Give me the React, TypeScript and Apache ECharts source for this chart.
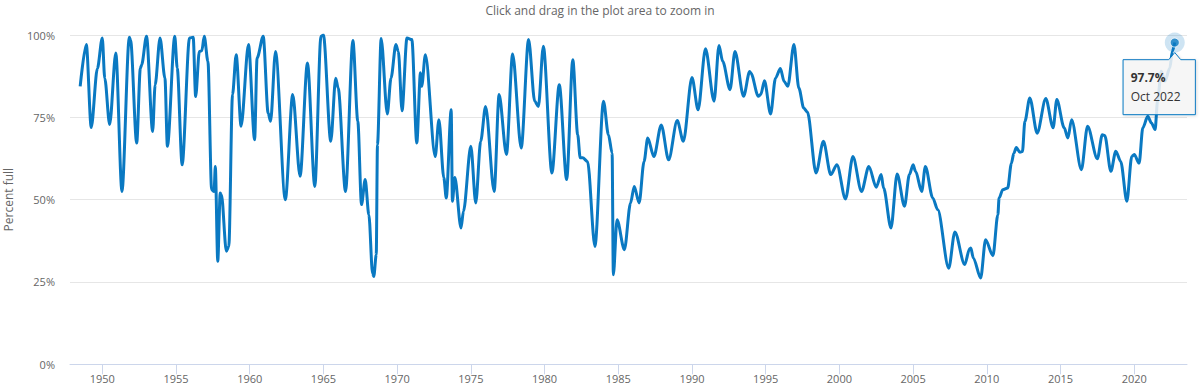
import React, { useEffect, useRef } from "react";
import * as echarts from "echarts";

const months: string[] = [
  "1948-07", "1948-12", "1949-04", "1949-09", "1950-01", "1950-03", "1950-07", "1950-12",
  "1951-05", "1951-11", "1951-12", "1952-05", "1952-08", "1952-09", "1953-01", "1953-06",
  "1953-08", "1953-12", "1954-04", "1954-06", "1954-12", "1955-02", "1955-06", "1955-12",
  "1956-03", "1956-05", "1956-08", "1956-10", "1956-12", "1957-03", "1957-06", "1957-08",
  "1957-09", "1957-11", "1958-01", "1958-02", "1958-06", "1958-08", "1958-11", "1959-02",
  "1959-06", "1959-12", "1960-05", "1960-07", "1960-12", "1961-04", "1961-06", "1961-10",
  "1962-06", "1962-12", "1963-06", "1963-12", "1964-06", "1964-11", "1965-01", "1965-07",
  "1965-11", "1966-01", "1966-07", "1967-01", "1967-05", "1967-08", "1967-11", "1968-02",
  "1968-05", "1968-06", "1968-08", "1968-09", "1968-12", "1969-05", "1969-08", "1969-12",
  "1970-02", "1970-05", "1970-09", "1971-01", "1971-05", "1971-08", "1971-09", "1971-12",
  "1972-08", "1972-11", "1973-03", "1973-05", "1973-09", "1973-10", "1973-12", "1974-05",
  "1974-07", "1975-01", "1975-05", "1975-09", "1976-01", "1976-08", "1976-12", "1977-06",
  "1977-11", "1978-06", "1978-12", "1979-05", "1979-08", "1979-12", "1980-07", "1981-01",
  "1981-07", "1981-12", "1982-04", "1982-06", "1982-08", "1982-12", "1983-06", "1984-01",
  "1984-05", "1984-08", "1984-09", "1984-12", "1985-06", "1985-11", "1986-02", "1986-06",
  "1986-10", "1987-01", "1987-06", "1987-12", "1988-06", "1989-01", "1989-06", "1990-01",
  "1990-06", "1990-12", "1991-07", "1991-11", "1992-02", "1992-08", "1992-12", "1993-07",
  "1993-12", "1994-01", "1994-07", "1994-09", "1994-12", "1995-05", "1995-09", "1996-01",
  "1996-04", "1996-07", "1996-12", "1997-04", "1997-08", "1997-11", "1998-06", "1998-12",
  "1999-06", "1999-11", "2000-06", "2000-12", "2001-07", "2002-01", "2002-07", "2002-11",
  "2003-01", "2003-07", "2003-12", "2004-06", "2004-10", "2005-01", "2005-03", "2005-08",
  "2005-11", "2006-05", "2006-09", "2007-06", "2007-11", "2008-07", "2008-11", "2008-12",
  "2009-02", "2009-08", "2009-12", "2010-06", "2010-10", "2010-11", "2011-02", "2011-06",
  "2011-09", "2011-11", "2012-01", "2012-04", "2012-06", "2012-08", "2012-12", "2013-06",
  "2014-01", "2014-07", "2014-10", "2015-04", "2015-07", "2015-10", "2016-06", "2016-11",
  "2017-07", "2017-11", "2018-01", "2018-06", "2018-10", "2019-02", "2019-07", "2019-11",
  "2020-01", "2020-05", "2020-08", "2020-12", "2021-03", "2021-06", "2021-08", "2021-11",
  "2022-02", "2022-06", "2022-08", "2022-10",
];

const percentFull: number[] = [
  84.4, 97.1, 71.9, 89.8, 99.1, 86.9, 72.8, 94.5,
  52.5, 99.3, 98.5, 67.2, 89.9, 90.9, 99.6, 70.7,
  84.8, 99.1, 86.9, 66.2, 99.6, 90.0, 60.6, 99.1,
  99.3, 81.3, 95.0, 95.2, 99.6, 92.0, 53.0, 52.5,
  60.1, 31.3, 52.0, 51.5, 34.3, 35.8, 81.9, 94.0,
  72.3, 97.1, 68.2, 93.0, 99.6, 76.3, 73.8, 95.0,
  50.0, 81.9, 57.1, 91.5, 54.0, 99.6, 100, 67.7,
  86.9, 83.9, 52.5, 98.3, 73.8, 48.5, 56.1, 45.4,
  27.5, 26.7, 33.3, 66.7, 98.9, 76.0, 86.9, 97.1,
  95.0, 77.0, 99.1, 98.6, 67.2, 88.5, 84.4, 94.0,
  63.1, 74.3, 56.7, 50.5, 77.3, 49.5, 56.7, 41.4,
  46.5, 66.2, 49.0, 67.7, 78.3, 52.5, 81.9, 63.7,
  94.2, 65.7, 98.6, 79.9, 78.3, 96.6, 58.1, 84.9,
  56.1, 92.5, 69.7, 62.7, 62.7, 61.6, 35.8, 79.9,
  69.7, 64.2, 27.2, 43.9, 34.8, 49.0, 54.0, 49.0,
  61.6, 68.7, 63.1, 72.7, 62.1, 74.0, 67.7, 87.1,
  77.3, 95.8, 79.9, 96.8, 92.0, 83.4, 95.0, 81.4,
  88.9, 88.4, 81.4, 81.9, 86.1, 76.0, 86.9, 89.8,
  85.9, 84.4, 97.1, 83.9, 77.8, 76.6, 58.1, 67.7,
  57.6, 60.6, 50.2, 63.1, 52.5, 60.1, 53.8, 57.6,
  53.5, 41.4, 57.8, 48.0, 57.6, 60.6, 58.6, 52.5,
  60.1, 50.5, 47.0, 29.2, 40.2, 30.3, 35.1, 35.3,
  32.3, 26.2, 37.8, 33.0, 45.4, 50.5, 53.0, 53.5,
  61.0, 64.1, 65.8, 64.4, 64.6, 73.8, 80.9, 70.2,
  80.7, 71.8, 80.4, 71.8, 68.7, 74.3, 59.1, 72.3,
  62.4, 69.7, 69.5, 58.6, 64.7, 61.6, 49.5, 63.1,
  63.7, 61.1, 71.8, 75.3, 73.3, 71.3, 80.0, 89.0,
  86.0, 90.0, 95.0, 97.7,
];

const yearTicks: number[] = [1950, 1955, 1960, 1965, 1970, 1975, 1980, 1985, 1990, 1995, 2000, 2005, 2010, 2015, 2020];
const monthNames: string[] = ["Jan", "Feb", "Mar", "Apr", "May", "Jun", "Jul", "Aug", "Sep", "Oct", "Nov", "Dec"];

const toYear = (m: string) => {
  const [y, mo] = m.split("-").map(Number);
  return y + (mo - 1) / 12;
};

export default function App() {
  const ref = useRef<HTMLDivElement>(null);
  useEffect(() => {
    const chart = echarts.init(ref.current!, null, { renderer: "svg" });
    const blue = "#0a79c2";
    const font = "'Open Sans', 'Noto Sans', sans-serif";
    const data = months.map((m, i) => [toYear(m), percentFull[i]]);
    const last = data[data.length - 1];
    const lastMonth = months[months.length - 1];
    const [ly, lm] = lastMonth.split("-").map(Number);

    chart.setOption({
      animation: false,
      backgroundColor: "#ffffff",
      textStyle: { fontFamily: font },
      title: {
        text: "Click and drag in the plot area to zoom in",
        left: "center",
        top: -1,
        textStyle: { fontSize: 12, fontWeight: "normal", color: "#666666", fontFamily: font },
      },
      grid: { left: 70, right: 13, top: 35, bottom: 25.7, containLabel: false, outerBoundsMode: "none" },
      xAxis: {
        type: "value",
        min: 1947.81,
        max: 2023.58,
        axisLine: { lineStyle: { color: "#ccd6eb" } },
        axisTick: { customValues: yearTicks, length: 10, lineStyle: { color: "#ccd6eb" } },
        axisLabel: {
          customValues: yearTicks,
          formatter: (v: number) => String(Math.round(v)),
          color: "#666666",
          fontSize: 11,
          margin: 9,
          fontFamily: font,
        },
        splitLine: { show: false },
      },
      yAxis: {
        type: "value",
        min: 0,
        max: 100,
        interval: 25,
        name: "Percent full",
        nameLocation: "middle",
        nameGap: 56,
        nameTextStyle: { color: "#666666", fontSize: 12, fontFamily: font },
        axisLabel: { formatter: "{value}%", color: "#666666", fontSize: 11, margin: 15, fontFamily: font },
        splitLine: { lineStyle: { color: "#e6e6e6" } },
        axisLine: { show: false },
        axisTick: { show: false },
      },
      series: [
        {
          type: "line",
          data,
          showSymbol: false,
          smooth: 0.3,
          smoothMonotone: "x",
          lineStyle: { color: blue, width: 3 },
          itemStyle: { color: blue },
          z: 2,
        },
        {
          type: "scatter",
          data: [last],
          symbolSize: 20,
          itemStyle: { color: "rgba(10,121,194,0.25)" },
          silent: true,
          z: 3,
        },
        {
          type: "scatter",
          data: [last],
          symbolSize: 9,
          itemStyle: { color: blue, borderColor: "#ffffff", borderWidth: 1 },
          silent: true,
          z: 4,
        },
      ],
    });

    const p = chart.convertToPixel({ gridIndex: 0 }, last) as number[];
    const bx = p[0] - 51.7;
    const by = p[1] + 17.1;
    const bw = 72.3;
    const bh = 55;
    chart.setOption({
      graphic: [
        {
          type: "polygon",
          z: 100,
          shape: {
            points: [
              [bx, by],
              [p[0] - 6, by],
              [p[0], p[1] + 10],
              [p[0] + 6, by],
              [bx + bw, by],
              [bx + bw, by + bh],
              [bx, by + bh],
            ],
          },
          style: {
            fill: "rgba(247,247,247,0.85)",
            stroke: blue,
            lineWidth: 1,
            shadowBlur: 3,
            shadowOffsetX: 1,
            shadowOffsetY: 1,
            shadowColor: "rgba(0,0,0,0.15)",
          },
        },
        {
          type: "text",
          z: 101,
          x: bx + 7.6,
          y: by + 18.3,
          style: {
            text: `${last[1].toFixed(1)}%`,
            fill: "#333333",
            font: `bold 12px ${font}`,
            verticalAlign: "middle",
          },
        },
        {
          type: "text",
          z: 101,
          x: bx + 7.6,
          y: by + 36.8,
          style: {
            text: `${monthNames[lm - 1]} ${ly}`,
            fill: "#333333",
            font: `12px ${font}`,
            verticalAlign: "middle",
          },
        },
      ],
    });

    return () => chart.dispose();
  }, []);
  return <div ref={ref} style={{ position: "absolute", left: 0, top: 0, width: 1200, height: 390 }} />;
}
